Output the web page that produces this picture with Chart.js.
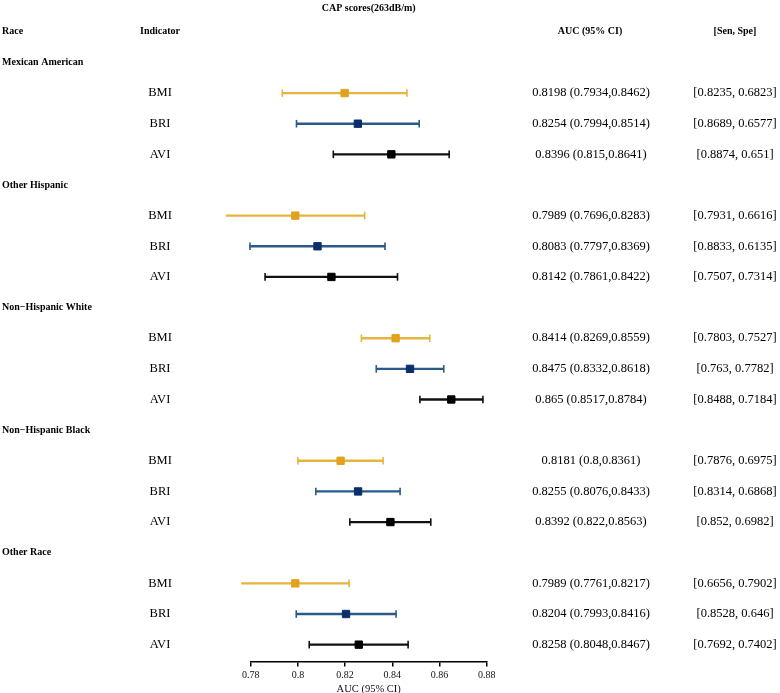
<!DOCTYPE html>
<html>
<head>
<meta charset="utf-8">
<script src="https://cdn.jsdelivr.net/npm/chart.js@4.4.1/dist/chart.umd.min.js"></script>
<style>
  body { margin: 0; background: #fff; }
  #wrap { width: 780px; height: 693px; }
</style>
</head>
<body>
<div id="wrap"><canvas id="forest"></canvas></div>
<script>
// groups and indicators
const races = ['Mexican American', 'Other Hispanic', 'Non\u2212Hispanic White', 'Non\u2212Hispanic Black', 'Other Race'];
const indicators = ['BMI', 'BRI', 'AVI'];

// AUC with 95% CI, one array per indicator (same order as races)
const aucBMI = [0.8198, 0.7989, 0.8414, 0.8181, 0.7989];
const lowBMI = [0.7934, 0.7696, 0.8269, 0.8, 0.7761];
const highBMI = [0.8462, 0.8283, 0.8559, 0.8361, 0.8217];

const aucBRI = [0.8254, 0.8083, 0.8475, 0.8255, 0.8204];
const lowBRI = [0.7994, 0.7797, 0.8332, 0.8076, 0.7993];
const highBRI = [0.8514, 0.8369, 0.8618, 0.8433, 0.8416];

const aucAVI = [0.8396, 0.8142, 0.865, 0.8392, 0.8258];
const lowAVI = [0.815, 0.7861, 0.8517, 0.822, 0.8048];
const highAVI = [0.8641, 0.8422, 0.8784, 0.8563, 0.8467];

// sensitivity / specificity
const senBMI = [0.8235, 0.7931, 0.7803, 0.7876, 0.6656];
const speBMI = [0.6823, 0.6616, 0.7527, 0.6975, 0.7902];
const senBRI = [0.8689, 0.8833, 0.763, 0.8314, 0.8528];
const speBRI = [0.6577, 0.6135, 0.7782, 0.6868, 0.646];
const senAVI = [0.8874, 0.7507, 0.8488, 0.852, 0.7692];
const speAVI = [0.651, 0.7314, 0.7184, 0.6982, 0.7402];

const xTickValues = [0.78, 0.8, 0.82, 0.84, 0.86, 0.88];
const xTickLabels = ['0.78', '0.8', '0.82', '0.84', '0.86', '0.88'];

const series = [
    { name: 'BMI', auc: aucBMI, low: lowBMI, high: highBMI, sen: senBMI, spe: speBMI, line: '#E6B540', box: '#E2A21C' },
    { name: 'BRI', auc: aucBRI, low: lowBRI, high: highBRI, sen: senBRI, spe: speBRI, line: '#2A5A88', box: '#0B2E6A' },
    { name: 'AVI', auc: aucAVI, low: lowAVI, high: highAVI, sen: senAVI, spe: speAVI, line: '#111111', box: '#000000' }
];

// row 0 = header, then each race takes one title row + three indicator rows
const raceRow = i => 1 + i * 4;
const indRow = (i, k) => 2 + i * 4 + k;

const serif = "'Liberation Serif', 'Times New Roman', serif";

const datasets = [];
series.forEach((s, k) => {
    datasets.push({
        type: 'scatter',
        label: s.name,
        order: 0,
        clip: false,
        data: races.map((r, i) => ({ x: s.auc[i], y: indRow(i, k) })),
        pointStyle: 'rect',
        pointRadius: 5.2,
        backgroundColor: s.box,
        borderColor: s.box,
        borderWidth: 1
    });
    datasets.push({
        type: 'scatter',
        label: s.name + ' caps',
        order: 1,
        clip: false,
        data: races.flatMap((r, i) => [{ x: s.low[i], y: indRow(i, k) }, { x: s.high[i], y: indRow(i, k) }]),
        pointStyle: 'line',
        rotation: 90,
        pointRadius: 3.8,
        borderColor: s.line,
        borderWidth: 1.6
    });
    datasets.push({
        type: 'bar',
        label: s.name + ' CI',
        order: 2,
        clip: false,
        indexAxis: 'y',
        grouped: false,
        barThickness: 1.7,
        data: races.map((r, i) => ({ x: [s.low[i], s.high[i]], y: indRow(i, k) })),
        backgroundColor: s.line
    });
});

// text columns of the table
const tableText = {
    id: 'tableText',
    afterDraw(chart) {
        const ctx = chart.ctx;
        const y = chart.scales.y;
        ctx.save();
        ctx.fillStyle = '#000';
        ctx.textBaseline = 'middle';

        ctx.font = 'bold 10px ' + serif;
        const h = y.getPixelForValue(0);
        ctx.textAlign = 'left';
        ctx.fillText('Race', 2, h);
        ctx.fillText('Indicator', 140, h);
        ctx.textAlign = 'center';
        ctx.fillText('AUC (95% CI)', 590, h);
        ctx.fillText('[Sen, Spe]', 735, h);

        races.forEach((race, i) => {
            ctx.font = 'bold 10px ' + serif;
            ctx.textAlign = 'left';
            ctx.fillText(race, 2, y.getPixelForValue(raceRow(i)));
            series.forEach((s, k) => {
                const py = y.getPixelForValue(indRow(i, k));
                ctx.font = '12.5px ' + serif;
                ctx.textAlign = 'center';
                ctx.fillText(s.name, 160, py);
                ctx.fillText(s.auc[i] + ' (' + s.low[i] + ',' + s.high[i] + ')', 591, py);
                ctx.fillText('[' + s.sen[i] + ', ' + s.spe[i] + ']', 735, py);
            });
        });
        ctx.restore();
    }
};

new Chart(document.getElementById('forest'), {
    type: 'scatter',
    data: { datasets },
    plugins: [tableText],
    options: {
        responsive: true,
        maintainAspectRatio: false,
        animation: false,
        events: [],
        layout: {
            padding: { left: 250.7, right: 293.3, top: 0, bottom: -3 }
        },
        scales: {
            x: {
                type: 'linear',
                min: 0.78,
                max: 0.88,
                afterBuildTicks: scale => {
                    scale.ticks = xTickValues.map(v => ({ value: v }));
                },
                ticks: {
                    callback: (v, i) => xTickLabels[i],
                    color: '#111',
                    padding: 3,
                    maxRotation: 0,
                    font: { family: serif, size: 10 }
                },
                grid: {
                    drawOnChartArea: false,
                    drawTicks: true,
                    tickLength: 5,
                    color: '#000',
                    lineWidth: 1.5
                },
                border: { display: true, color: '#000', width: 1.5 },
                title: {
                    display: true,
                    text: 'AUC (95% CI)',
                    color: '#111',
                    padding: { top: -1, bottom: 2 },
                    font: { family: serif, size: 10.5, lineHeight: 1 }
                }
            },
            y: {
                type: 'linear',
                display: false,
                reverse: true,
                offset: false,
                min: -0.58,
                max: 20.55,
                grid: { offset: false }
            }
        },
        plugins: {
            legend: { display: false },
            tooltip: { enabled: false },
            title: {
                display: true,
                text: 'CAP scores(263dB/m)',
                color: '#000',
                padding: { top: 2, bottom: 0 },
                font: { family: serif, size: 10, weight: 'bold' }
            }
        }
    }
});
</script>
</body>
</html>
